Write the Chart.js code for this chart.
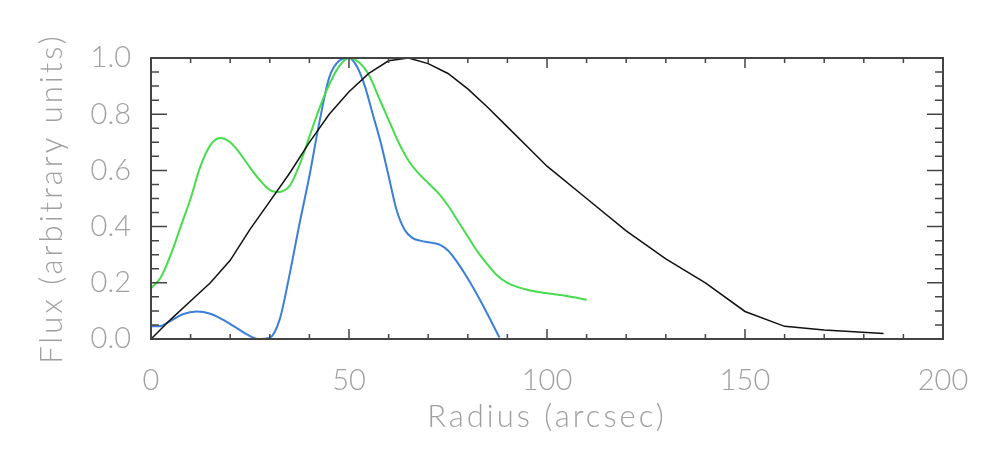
<!DOCTYPE html>
<html lang="en">
<head>
    <meta charset="UTF-8">
    <title>Flux vs Radius</title>
    <script src="https://cdn.jsdelivr.net/npm/chart.js@4"></script>
    <style>
        body { margin: 0; background: #fff; }
        .chart-container { position: relative; width: 987px; height: 458px; }
    </style>
</head>
<body>
    <div class="chart-container">
        <canvas id="fluxChart"></canvas>
    </div>

    <script>
        // black profile
        const blackRadius = [0, 5, 10, 15, 20, 25, 30, 35, 40, 45, 50, 55, 60, 65, 70, 75, 80, 85, 90, 95, 100, 110, 120, 130, 140, 150, 160, 170, 185];
        const blackFlux = [0, 0.07, 0.135, 0.2, 0.28, 0.39, 0.49, 0.59, 0.7, 0.8, 0.88, 0.945, 0.99, 1.0, 0.98, 0.945, 0.89, 0.825, 0.755, 0.685, 0.615, 0.5, 0.385, 0.285, 0.2, 0.098, 0.045, 0.032, 0.02];

        // green profile
        const greenRadius = [0, 2.5, 5, 7.5, 10, 12.5, 15, 17.5, 20, 22.5, 25, 27.5, 30, 32, 35, 37.5, 40, 42.5, 45, 47.5, 50, 52.5, 55, 57.5, 60, 62.5, 65, 67.5, 70, 72.5, 75, 77.5, 80, 82.5, 85, 87.5, 90, 95, 100, 105, 110];
        const greenFlux = [0.18, 0.22, 0.3, 0.4, 0.5, 0.615, 0.69, 0.715, 0.7, 0.66, 0.61, 0.565, 0.53, 0.523, 0.545, 0.62, 0.72, 0.82, 0.905, 0.97, 1.0, 0.985, 0.94, 0.86, 0.78, 0.7, 0.635, 0.59, 0.555, 0.52, 0.475, 0.42, 0.365, 0.31, 0.265, 0.225, 0.2, 0.175, 0.163, 0.153, 0.14];

        // blue profile
        const blueRadius = [0, 2, 5, 8, 11.5, 15, 18, 21, 24, 27, 30, 32.5, 35, 37.5, 40, 42.5, 45, 47.5, 50, 52, 54, 56, 58, 60, 62, 64, 66, 68, 71, 73, 75, 77, 80, 84, 88];
        const blueFlux = [0.045, 0.045, 0.065, 0.088, 0.098, 0.09, 0.07, 0.045, 0.018, 0.0, 0.005, 0.07, 0.23, 0.41, 0.58, 0.77, 0.93, 0.99, 1.0, 0.97, 0.9, 0.8, 0.7, 0.58, 0.46, 0.39, 0.36, 0.35, 0.342, 0.335, 0.315, 0.28, 0.215, 0.115, 0.005];

        const xTicks = [0, 50, 100, 150, 200];
        const yTicks = [0, 0.2, 0.4, 0.6, 0.8, 1.0];

        const FONT = "Lato, 'DejaVu Sans', sans-serif";
        const TEXT_COLOR = '#a0a0a0';

        function toPoints(xs, ys) {
            return xs.map((x, i) => ({ x: x, y: ys[i] }));
        }

        // axis titles are drawn with the grid layer (before datasets): widen them a bit
        const titleSpacing = {
            id: 'titleSpacing',
            beforeDraw(chart) { chart.ctx.letterSpacing = '3px'; },
            beforeDatasetsDraw(chart) { chart.ctx.letterSpacing = '0px'; }
        };

        // IDL-style inward ticks on all four sides
        const frameTicks = {
            id: 'frameTicks',
            afterDraw(chart) {
                const { ctx, chartArea: a, scales } = chart;
                const sx = scales.x, sy = scales.y;
                ctx.save();
                ctx.strokeStyle = '#444';
                ctx.lineWidth = 1.5;
                for (let v = 0; v <= 200; v += 10) {
                    const px = sx.getPixelForValue(v);
                    const len = v % 50 === 0 ? 10 : 5;
                    ctx.beginPath();
                    ctx.moveTo(px, a.bottom); ctx.lineTo(px, a.bottom - len);
                    ctx.moveTo(px, a.top); ctx.lineTo(px, a.top + len);
                    ctx.stroke();
                }
                for (let i = 0; i <= 20; i++) {
                    const py = sy.getPixelForValue(i * 0.05);
                    const len = i % 4 === 0 ? 16 : 8;
                    ctx.beginPath();
                    ctx.moveTo(a.left, py); ctx.lineTo(a.left + len, py);
                    ctx.moveTo(a.right, py); ctx.lineTo(a.right - len, py);
                    ctx.stroke();
                }
                ctx.lineWidth = 2;
                ctx.strokeRect(a.left, a.top, a.right - a.left, a.bottom - a.top);
                ctx.restore();
            }
        };

        const ctx = document.getElementById('fluxChart').getContext('2d');
        const fluxChart = new Chart(ctx, {
            type: 'line',
            data: {
                datasets: [
                    {
                        label: 'black',
                        data: toPoints(blackRadius, blackFlux),
                        borderColor: '#111',
                        borderWidth: 1.5,
                        tension: 0,
                        pointRadius: 0
                    },
                    {
                        label: 'green',
                        data: toPoints(greenRadius, greenFlux),
                        borderColor: '#46dc4e',
                        borderWidth: 2,
                        cubicInterpolationMode: 'monotone',
                        pointRadius: 0
                    },
                    {
                        label: 'blue',
                        data: toPoints(blueRadius, blueFlux),
                        borderColor: '#3a7fd8',
                        borderWidth: 2,
                        cubicInterpolationMode: 'monotone',
                        pointRadius: 0
                    }
                ]
            },
            options: {
                responsive: true,
                maintainAspectRatio: false,
                animation: false,
                layout: { padding: { top: 58, right: 44, left: 0, bottom: 0 } },
                plugins: {
                    legend: { display: false },
                    tooltip: { enabled: false }
                },
                scales: {
                    x: {
                        type: 'linear',
                        min: 0,
                        max: 200,
                        afterBuildTicks: s => { s.ticks = xTicks.map(v => ({ value: v })); },
                        afterFit: s => { s.height = 119; },
                        border: { display: false },
                        grid: { display: false },
                        ticks: {
                            z: 1,
                            color: TEXT_COLOR,
                            padding: 16,
                            maxRotation: 0,
                            font: { family: FONT, size: 29, weight: 300 }
                        },
                        title: {
                            display: true,
                            text: 'Radius (arcsec)',
                            color: TEXT_COLOR,
                            padding: { top: 0, bottom: 22 },
                            font: { family: FONT, size: 31, weight: 300 }
                        }
                    },
                    y: {
                        min: 0,
                        max: 1.0,
                        afterBuildTicks: s => { s.ticks = yTicks.map(v => ({ value: v })); },
                        afterFit: s => { s.width = 151; },
                        border: { display: false },
                        grid: { display: false },
                        ticks: {
                            z: 1,
                            color: TEXT_COLOR,
                            padding: 12,
                            callback: v => v.toFixed(1),
                            font: { family: FONT, size: 29, weight: 300 }
                        },
                        title: {
                            display: true,
                            text: 'Flux (arbitrary units)',
                            color: TEXT_COLOR,
                            padding: { top: 33, bottom: 0 },
                            font: { family: FONT, size: 31, weight: 300 }
                        }
                    }
                }
            },
            plugins: [titleSpacing, frameTicks]
        });
    </script>
</body>
</html>
